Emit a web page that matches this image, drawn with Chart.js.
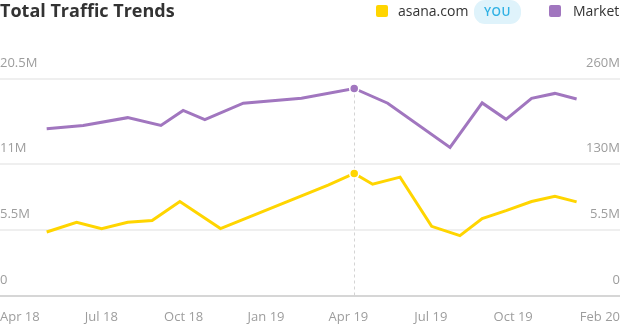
<!DOCTYPE html>
<html>
<head>
<meta charset="utf-8">
<script src="https://cdn.jsdelivr.net/npm/chart.js@4"></script>
<style>
    html, body { margin: 0; padding: 0; background: #fff; }
    body { width: 620px; height: 325px; position: relative; overflow: hidden; font-family: 'Open Sans', sans-serif; }
    #trafficChart { position: absolute; left: 0; top: 0; }
    .title { position: absolute; left: 0; top: 1px; font-size: 18px; line-height: 18px; font-weight: 700; color: #333; }
    .swatch { position: absolute; top: 5px; width: 12px; height: 12px; border-radius: 2px; }
    .legend-text { position: absolute; top: 2px; font-size: 14px; line-height: 18px; color: #333; }
    .you-badge { position: absolute; left: 474px; top: 0; width: 47px; height: 24px; border-radius: 11px; background: #dff3fb; color: #2fb1e4; font-size: 12px; font-weight: 600; line-height: 24px; text-align: center; letter-spacing: 0.5px; }
</style>
</head>
<body>
<canvas id="trafficChart" width="620" height="325"></canvas>
<div class="title">Total Traffic Trends</div>
<div class="swatch" style="left:376px; background:#ffd500;"></div>
<div class="legend-text" style="left:398px;">asana.com</div>
<div class="you-badge">YOU</div>
<div class="swatch" style="left:549px; background:#a176bf;"></div>
<div class="legend-text" style="left:573px;">Market</div>

<script>
// x values are months counted from Apr 2018
const tickMonths = [0, 3, 6, 9, 12, 15, 18, 22];
const tickLabels = ['Apr 18', 'Jul 18', 'Oct 18', 'Jan 19', 'Apr 19', 'Jul 19', 'Oct 19', 'Feb 20'];

// asana.com visits, millions
const asanaMonths = [1.01, 2.10, 3.01, 3.96, 4.85, 5.86, 7.34, 11.26, 12.21, 12.88, 13.88, 15.03, 16.06, 16.87, 17.74, 18.67, 19.52, 20.31];
const asanaVisits = [5.36, 6.17, 5.64, 6.17, 6.31, 7.89, 5.64, 9.25, 10.23, 9.33, 9.92, 5.83, 5.06, 6.48, 7.13, 7.89, 8.33, 7.86];

// market visits, millions
const marketMonths = [1.01, 2.34, 3.96, 5.17, 5.98, 6.77, 8.17, 10.29, 12.21, 13.43, 15.70, 16.87, 17.74, 18.67, 19.52, 20.31];
const marketVisits = [184, 189, 201, 189, 212, 198, 223, 230.5, 245.5, 223, 155.5, 223.5, 198.5, 230.5, 238, 229.5];

// the two panels: market on top, asana below
const lowerTicks = [0, 5.5];
const upperLeftTicks = [11, 20.5];
const marketTicks = [130, 260];

const highlightMonth = 12.21;

const FONT = "'Open Sans', sans-serif";
const fmtM = v => v === 0 ? '0' : v + 'M';

function panelAxis(position, weight, min, max, tickValues, showGrid) {
    return {
        position: position,
        stack: position,
        stackWeight: weight,
        min: min,
        max: max,
        afterBuildTicks: scale => { scale.ticks = tickValues.map(v => ({ value: v })); },
        grid: {
            display: showGrid,
            drawTicks: false,
            lineWidth: 2,
            color: c => (c.tick && c.tick.value === 0) ? 'rgba(0,0,0,0)' : '#efefef'
        },
        border: { display: false },
        ticks: {
            mirror: true,
            padding: 0,
            labelOffset: -16,
            color: '#9d9d9d',
            font: { family: FONT, size: 13 },
            callback: v => fmtM(v)
        }
    };
}

const toPoints = (xs, ys) => xs.map((x, i) => ({ x: x, y: ys[i] }));

const hoverLine = {
    id: 'hoverLine',
    beforeDatasetsDraw(chart) {
        const x = chart.scales.x.getPixelForValue(highlightMonth);
        const i = marketMonths.indexOf(highlightMonth);
        const top = chart.scales.yMarket.getPixelForValue(marketVisits[i]);
        const ctx = chart.ctx;
        ctx.save();
        ctx.strokeStyle = '#d4d4d4';
        ctx.lineWidth = 1;
        ctx.setLineDash([3, 3]);
        ctx.beginPath();
        ctx.moveTo(Math.round(x) + 0.5, top);
        ctx.lineTo(Math.round(x) + 0.5, chart.chartArea.bottom);
        ctx.stroke();
        ctx.restore();
    }
};

function lineSet(label, xs, ys, color, axis) {
    const hi = xs.indexOf(highlightMonth);
    return {
        label: label,
        data: toPoints(xs, ys),
        yAxisID: axis,
        borderColor: color,
        backgroundColor: color,
        borderWidth: 3,
        tension: 0,
        fill: false,
        pointRadius: c => c.dataIndex === hi ? 4.5 : 0,
        pointBorderColor: '#fff',
        pointBorderWidth: 1.5
    };
}

new Chart(document.getElementById('trafficChart'), {
    type: 'line',
    data: {
        datasets: [
            lineSet('asana.com', asanaMonths, asanaVisits, '#ffd500', 'yAsana'),
            lineSet('Market', marketMonths, marketVisits, '#a176bf', 'yMarket')
        ]
    },
    options: {
        responsive: false,
        animation: false,
        // x labels sit low under the axis line, so the tall label row is pulled back up
        layout: { padding: { top: 79, left: 0, right: 0, bottom: -13.4 } },
        plugins: { legend: { display: false }, tooltip: { enabled: false } },
        scales: {
            x: {
                type: 'linear',
                min: -0.69,
                max: 21.89,
                afterBuildTicks: scale => {
                    // first and last labels are pinned to the edges
                    const last = tickMonths.length - 1;
                    scale.ticks = tickMonths.map((m, i) => ({ value: i === 0 ? scale.min : (i === last ? scale.max : m) }));
                },
                grid: { display: false, drawTicks: false },
                border: { display: true, color: '#d6d6d6', width: 2 },
                ticks: {
                    align: 'inner',
                    autoSkip: false,
                    maxRotation: 0,
                    padding: 0,
                    color: '#9d9d9d',
                    font: { family: FONT, size: 13, lineHeight: '42px' },
                    callback: (v, i) => tickLabels[i]
                }
            },
            yAsana: panelAxis('left', 132, 0, 11, lowerTicks, true),
            yUpperLeft: panelAxis('left', 85, 11, 20.5, upperLeftTicks, true),
            yMarket: panelAxis('right', 85, 130, 260, marketTicks, false),
            yLowerRight: panelAxis('right', 132, 0, 11, lowerTicks, false)
        }
    },
    plugins: [hoverLine]
});
</script>
</body>
</html>
